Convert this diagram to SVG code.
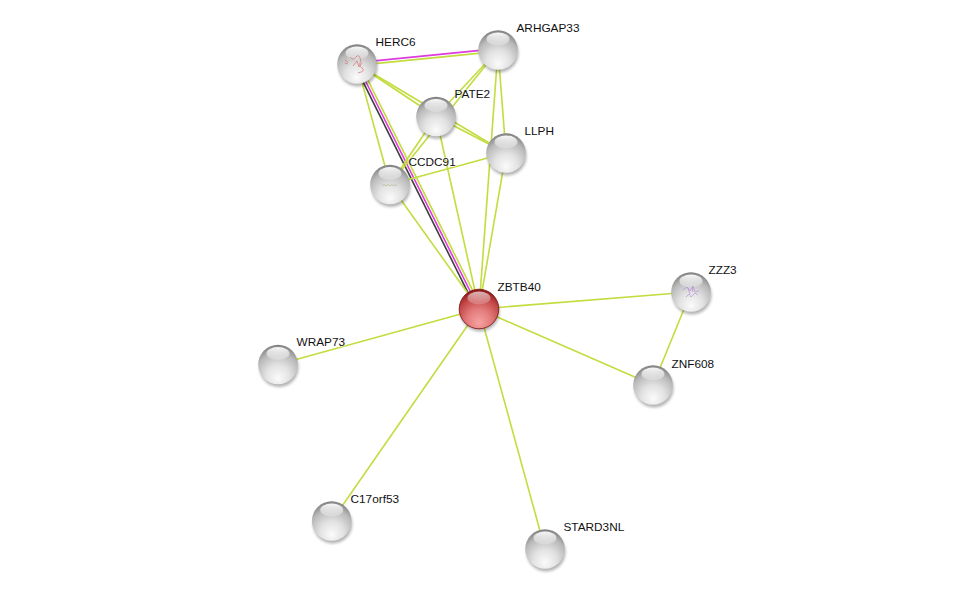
<svg xmlns="http://www.w3.org/2000/svg" xmlns:xlink="http://www.w3.org/1999/xlink" width="976" height="594" viewBox="0 0 976 594">
<style>
.e{stroke:#c3dc3e;stroke-width:1.6;fill:none}
.m{stroke:#dd3bdd;stroke-width:1.6;fill:none}
.k{stroke:#3f3f3f;stroke-width:1.6;fill:none}
.lbl{font-family:"Liberation Sans",Arial,Helvetica,sans-serif;font-size:11.8px;fill:#111;stroke:#fff;stroke-width:1.5;stroke-opacity:0.6;paint-order:stroke}
</style>
<defs>
<radialGradient id="gBody" cx="0.5" cy="0.75" r="0.75" fx="0.5" fy="0.85">
<stop offset="0" stop-color="#fbfbfb"/>
<stop offset="0.4" stop-color="#e2e2e2"/>
<stop offset="0.75" stop-color="#b9b9b9"/>
<stop offset="1" stop-color="#7e7e7e"/>
</radialGradient>
<radialGradient id="gRed" cx="0.5" cy="0.75" r="0.75" fx="0.5" fy="0.85">
<stop offset="0" stop-color="#f6a2a2"/>
<stop offset="0.4" stop-color="#e47c7c"/>
<stop offset="0.75" stop-color="#c24646"/>
<stop offset="1" stop-color="#861515"/>
</radialGradient>
<linearGradient id="gHi" x1="0" y1="0" x2="0" y2="1">
<stop offset="0" stop-color="#fff" stop-opacity="0.95"/>
<stop offset="1" stop-color="#fff" stop-opacity="0.2"/>
</linearGradient>
<filter id="blur" x="-50%" y="-50%" width="200%" height="200%">
<feGaussianBlur stdDeviation="1.6"/>
</filter>
<g id="sph">
<circle cx="1" cy="3" r="19.5" fill="#000" opacity="0.3" filter="url(#blur)"/>
<circle r="19.8" fill="url(#gBody)"/>
<ellipse cx="0" cy="-11" rx="11.5" ry="6.5" fill="url(#gHi)"/>
</g>
<g id="sphR">
<circle cx="1" cy="3" r="19.5" fill="#000" opacity="0.3" filter="url(#blur)"/>
<circle r="19.8" fill="url(#gRed)" stroke="#7a1010" stroke-width="0.8"/>
<ellipse cx="0" cy="-11" rx="11.5" ry="6.5" fill="url(#gHi)" opacity="0.7"/>
</g>
</defs>
<rect width="976" height="594" fill="#fff"/>
<g id="edges">
<line class="m" x1="356.8" y1="62.6" x2="497.8" y2="48.6"/>
<line class="e" x1="357.2" y1="65.4" x2="498.2" y2="51.4"/>
<line class="e" x1="357" y1="64" x2="436" y2="116.5"/>
<line class="e" x1="357" y1="64" x2="506" y2="153"/>
<line class="e" x1="357" y1="64" x2="390" y2="184.5"/>
<line class="k" x1="354.7" y1="65.2" x2="476.7" y2="310.2"/>
<line class="m" x1="357" y1="64" x2="479" y2="309"/>
<line class="e" x1="359.3" y1="62.8" x2="481.3" y2="307.8"/>
<line class="e" x1="498" y1="50" x2="436" y2="116.5"/>
<line class="e" x1="498" y1="50" x2="390" y2="184.5"/>
<line class="e" x1="498" y1="50" x2="506" y2="153"/>
<line class="e" x1="498" y1="50" x2="479" y2="309"/>
<line class="e" x1="436" y1="116.5" x2="506" y2="153"/>
<line class="e" x1="436" y1="116.5" x2="390" y2="184.5"/>
<line class="e" x1="436" y1="116.5" x2="479" y2="309"/>
<line class="e" x1="506" y1="153" x2="390" y2="184.5"/>
<line class="e" x1="506" y1="153" x2="479" y2="309"/>
<line class="e" x1="390" y1="184.5" x2="479" y2="309"/>
<line class="e" x1="479" y1="309" x2="691" y2="292"/>
<line class="e" x1="479" y1="309" x2="278" y2="364.5"/>
<line class="e" x1="479" y1="309" x2="653" y2="385"/>
<line class="e" x1="479" y1="309" x2="331.7" y2="521"/>
<line class="e" x1="479" y1="309" x2="545" y2="549"/>
<line class="e" x1="691" y1="292" x2="653" y2="385"/>
</g>
<g id="node-HERC6">
<use xlink:href="#sph" x="357" y="64"/>
<g fill="none" stroke="#d85a5a" stroke-width="0.8" opacity="0.75">
<path d="M350 57 q3 4 6 0 t5 4 q-3 4 1 7 t-4 5"/>
<path d="M353 66 l4 -5 l2 6 l3 -4"/>
<path d="M345 60 l3 2 m-3 1 l3 1"/>
</g>
<text class="lbl" x="375.5" y="46">HERC6</text>
</g>
<g id="node-ARHGAP33">
<use xlink:href="#sph" x="498" y="50"/>
<text class="lbl" x="516.5" y="31.7">ARHGAP33</text>
</g>
<g id="node-PATE2">
<use xlink:href="#sph" x="436" y="116.5"/>
<text class="lbl" x="454.5" y="98">PATE2</text>
</g>
<g id="node-LLPH">
<use xlink:href="#sph" x="506" y="153"/>
<text class="lbl" x="524.5" y="134.5">LLPH</text>
</g>
<g id="node-CCDC91">
<use xlink:href="#sph" x="390" y="184.5"/>
<path d="M382 186 q2 -3 4 0 q2 -3 4 0 q2 -3 4 0 q2 -3 3 0" fill="none" stroke="#a8a878" stroke-width="0.7" opacity="0.8"/>
<text class="lbl" x="408.5" y="166">CCDC91</text>
</g>
<g id="node-ZBTB40">
<use xlink:href="#sphR" x="479" y="309"/>
<text class="lbl" x="497.5" y="290.5">ZBTB40</text>
</g>
<g id="node-ZZZ3">
<use xlink:href="#sph" x="691" y="292"/>
<g fill="none" stroke="#b07cd6" stroke-width="0.7" opacity="0.8">
<path d="M683 290 l4 -3 l3 4 l3 -5 l2 6 l4 -1"/>
<path d="M686 297 l3 -3 l2 3 l4 -4 l3 2"/>
<path d="M688 288 l2 6 m2 -7 l1 5"/>
</g>
<text class="lbl" x="708.5" y="273.5">ZZZ3</text>
</g>
<g id="node-WRAP73">
<use xlink:href="#sph" x="278" y="364.5"/>
<text class="lbl" x="296.5" y="346">WRAP73</text>
</g>
<g id="node-ZNF608">
<use xlink:href="#sph" x="653" y="385"/>
<text class="lbl" x="671.5" y="367.5">ZNF608</text>
</g>
<g id="node-C17orf53">
<use xlink:href="#sph" x="331.7" y="521"/>
<text class="lbl" x="350.5" y="502.5">C17orf53</text>
</g>
<g id="node-STARD3NL">
<use xlink:href="#sph" x="545" y="549"/>
<text class="lbl" x="563.5" y="530.5">STARD3NL</text>
</g>
</svg>
